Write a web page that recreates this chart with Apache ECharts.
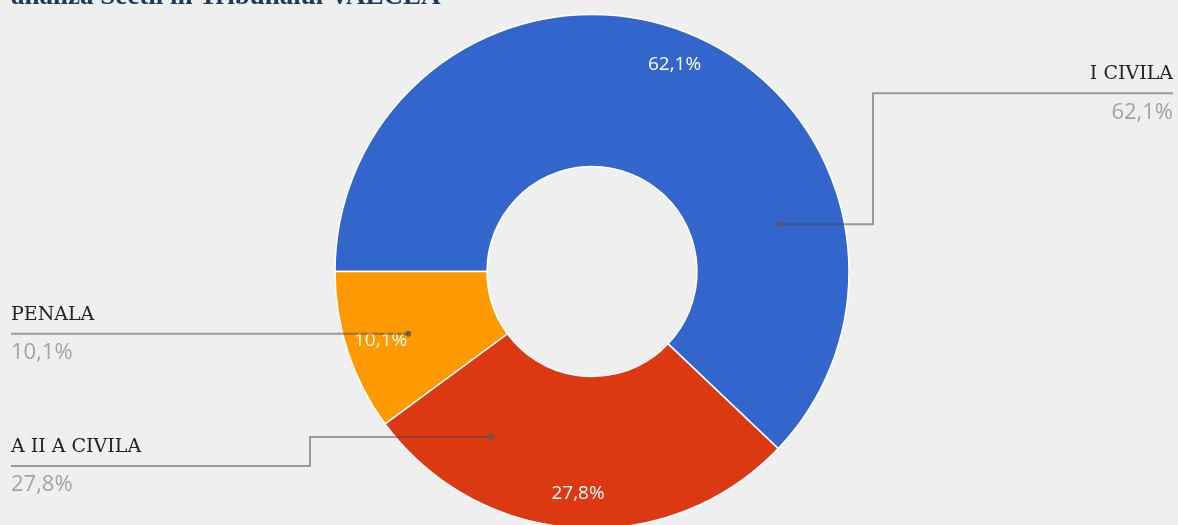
<!DOCTYPE html>
<html><head><meta charset="utf-8">
<script src="https://cdn.jsdelivr.net/npm/echarts@6/dist/echarts.min.js"></script>
<style>html,body{margin:0;padding:0;background:#efefef}#c{width:1178px;height:525px}</style>
</head><body><div id="c"></div>
<script>
const titleText = 'analiza Sectii in Tribunalul VALCEA';
const categories = ['I CIVILA', 'A II A CIVILA', 'PENALA'];
const values = [62.1, 27.8, 10.1];
const colors = ['#3366cc', '#dc3912', '#ff9900'];

const fmt = v => v.toFixed(1).replace('.', ',') + '%';

const CX = 592, CY = 271.5, R0 = 105, R1 = 257;
const ANCHOR_R = 194;
const callouts = [
  {side: 'right', anchorDeg: 14.1, lineY: 93.3, elbowX: 873},
  {side: 'left', anchorDeg: -121.5, lineY: 466, elbowX: 310},
  {side: 'left', anchorDeg: -161.3, lineY: null, elbowX: null}
];
const SERIF = '"DejaVu Serif", serif';
const SANS = '"Open Sans", "Noto Sans", sans-serif';
const LINE = 'rgba(70,70,70,0.5)';

const chart = echarts.init(document.getElementById('c'), null, {renderer: 'canvas'});

const graphics = [{
  type: 'text', z: 100, x: 11, y: -2.5,
  style: {text: titleText, font: 'bold 27px "Liberation Serif", serif', fill: '#1b3a5c',
          align: 'left', verticalAlign: 'middle', textAlign: 'left', textVerticalAlign: 'middle'}
}];

callouts.forEach((c, i) => {
  const a = c.anchorDeg * Math.PI / 180;
  const ax = CX + ANCHOR_R * Math.cos(a);
  const ay = CY - ANCHOR_R * Math.sin(a);
  const ly = c.lineY == null ? ay : c.lineY;
  const endX = c.side === 'right' ? 1173 : 11;
  const pts = [[ax, ay]];
  if (c.elbowX != null) { pts.push([c.elbowX, ay]); pts.push([c.elbowX, ly]); }
  pts.push([endX, ly]);
  graphics.push({type: 'polyline', z: 100, shape: {points: pts}, style: {stroke: LINE, lineWidth: 2, fill: null}});
  graphics.push({type: 'circle', z: 101, shape: {cx: ax, cy: ay, r: 3}, style: {fill: 'rgba(90,90,90,0.85)'}});
  const al = c.side === 'right' ? 'right' : 'left';
  graphics.push({type: 'text', z: 100, x: endX, y: ly - 19,
    style: {text: categories[i], font: '19px ' + SERIF, fill: '#222',
            align: al, verticalAlign: 'middle', textAlign: al, textVerticalAlign: 'middle'}});
  graphics.push({type: 'text', z: 100, x: endX, y: ly + 19,
    style: {text: fmt(values[i]), font: '22px ' + SANS, fill: '#a3a3a3',
            align: al, verticalAlign: 'middle', textAlign: al, textVerticalAlign: 'middle'}});
});

const pieData = categories.map((n, i) => ({name: n, value: values[i], itemStyle: {color: colors[i]}}));

chart.setOption({
  backgroundColor: '#efefef',
  animation: false,
  series: [
    {
      type: 'pie', radius: [R0, R1], center: [CX, CY], startAngle: 180, clockwise: true,
      silent: true, label: {show: false}, labelLine: {show: false},
      itemStyle: {borderColor: '#ffffff', borderWidth: 1.5},
      data: pieData
    },
    {
      type: 'pie', radius: [180, R1 + 2], center: [CX, CY], startAngle: 180, clockwise: true,
      silent: true, labelLine: {show: false},
      itemStyle: {color: 'rgba(0,0,0,0)', borderWidth: 0},
      label: {show: true, position: 'inside', formatter: p => fmt(p.value), color: '#ffffff',
              fontSize: 19, fontFamily: SANS, textBorderWidth: 0},
      data: categories.map((n, i) => ({name: n, value: values[i], itemStyle: {color: 'rgba(0,0,0,0)'}}))
    }
  ],
  graphic: {elements: graphics}
});
</script></body></html>
